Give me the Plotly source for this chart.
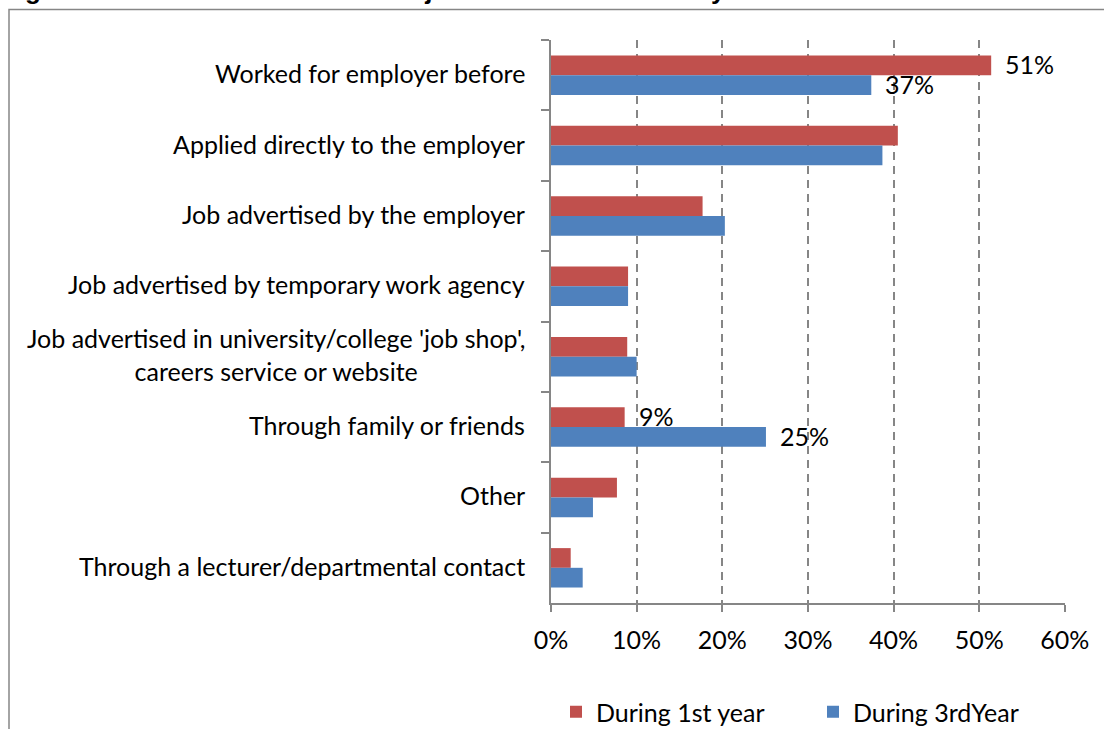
import plotly.graph_objects as go

# Survey responses: how students obtained their jobs (percent of respondents)
categories = [
    "Worked for employer before",
    "Applied directly to the employer",
    "Job advertised by the employer",
    "Job advertised by temporary work agency",
    "Job advertised in university/college 'job shop',<br>careers service or website",
    "Through family or friends",
    "Other",
    "Through a lecturer/departmental contact",
]
first_year = [51.4, 40.5, 17.7, 9.0, 8.9, 8.6, 7.7, 2.3]
third_year = [37.4, 38.7, 20.3, 9.0, 10.0, 25.1, 4.9, 3.7]
series_names = ["During 1st year", "During 3rdYear"]
x_ticks = [0, 10, 20, 30, 40, 50, 60]
x_tick_labels = ["0%", "10%", "20%", "30%", "40%", "50%", "60%"]

# (series index, category index) pairs that carry a value label
labelled = [(0, 0), (1, 0), (0, 5), (1, 5)]

RED = "#C0504D"
BLUE = "#4F81BD"
AXIS_GREY = "#868686"
FONT = "Lato"
FS = 25

W, H = 1104, 729
ML, MR, MT, MB = 551, 39, 40, 126
PW, PH = W - ML - MR, H - MT - MB

BARGAP = 0.44

fig = go.Figure()
for name, vals, col, leg in [(series_names[0], first_year, RED, "legend"),
                             (series_names[1], third_year, BLUE, "legend2")]:
    fig.add_trace(go.Bar(
        y=categories, x=vals, name=name, orientation="h",
        marker=dict(color=col, line=dict(width=0)),
        hoverinfo="skip", legend=leg,
    ))

annotations = []

# Category labels, centred line by line and right-aligned to the axis
for cat in categories:
    annotations.append(dict(
        x=0, xref="paper", y=cat, yref="y",
        text=cat, showarrow=False, xanchor="right", yanchor="middle",
        align="center", xshift=-24, yshift=2,
        font=dict(family=FONT, size=FS, color="#000000"),
    ))

# Value labels just past the end of selected bars
offset = (1 - BARGAP) / 4
series_vals = [first_year, third_year]
for s, c in labelled:
    v = series_vals[s][c]
    annotations.append(dict(
        x=v, xref="x", y=c + (-offset if s == 0 else offset), yref="y",
        text=f"{v:.0f}%", showarrow=False, xanchor="left", yanchor="middle",
        xshift=12, yshift=1, font=dict(family=FONT, size=FS, color="#000000"),
    ))

# Figure caption along the top edge
annotations.append(dict(
    x=0, xref="paper", xshift=-ML, y=1 + (MT - 7) / PH, yref="paper",
    text="<b>Figure 6 – How students obtained jobs in their 1<sup>st</sup> and 3<sup>rd</sup> years</b>",
    showarrow=False, xanchor="left", yanchor="bottom",
    font=dict(family="Liberation Sans", size=26, color="#000000"),
))

# Chart frame (right and bottom edges fall outside the page)
frame = dict(
    type="rect", xref="paper", yref="paper",
    x0=(9 - ML) / PW, x1=(W + 20 - ML) / PW,
    y0=(MT + PH - (H + 20)) / PH, y1=1 + (MT - 9.5) / PH,
    line=dict(color=AXIS_GREY, width=1.5), fillcolor="rgba(0,0,0,0)",
    layer="below",
)

legend_style = dict(
    orientation="h", xref="container", xanchor="left",
    yref="container", y=1 - 689 / H, yanchor="top",
    font=dict(family=FONT, size=FS, color="#000000"),
    bgcolor="rgba(0,0,0,0)",
)

fig.update_layout(
    width=W, height=H,
    margin=dict(l=ML, r=MR, t=MT, b=MB, pad=0, autoexpand=False),
    paper_bgcolor="white", plot_bgcolor="white",
    barmode="group", bargap=BARGAP, bargroupgap=0,
    font=dict(family=FONT, size=FS, color="#000000"),
    annotations=annotations,
    shapes=[frame],
    showlegend=True,
    legend=dict(legend_style, x=556 / W),
    legend2=dict(legend_style, x=813 / W),
)

fig.update_xaxes(
    range=[0, 60.02], tickvals=x_ticks, ticktext=x_tick_labels,
    showgrid=True, gridcolor=AXIS_GREY, gridwidth=1.5, griddash="8px,6px",
    showline=True, linecolor=AXIS_GREY, linewidth=1.5,
    ticks="outside", ticklen=7, tickcolor=AXIS_GREY, tickwidth=1.5,
    ticklabelstandoff=7, zeroline=False,
    tickfont=dict(family=FONT, size=FS, color="#000000"),
    fixedrange=True,
)
fig.update_yaxes(
    autorange="reversed", type="category",
    showticklabels=False, showgrid=False,
    showline=True, linecolor=AXIS_GREY, linewidth=1.5,
    ticks="outside", tickson="boundaries", ticklen=8,
    tickcolor=AXIS_GREY, tickwidth=1.5, fixedrange=True,
)

fig.write_html("out.html", config={"displayModeBar": False})
